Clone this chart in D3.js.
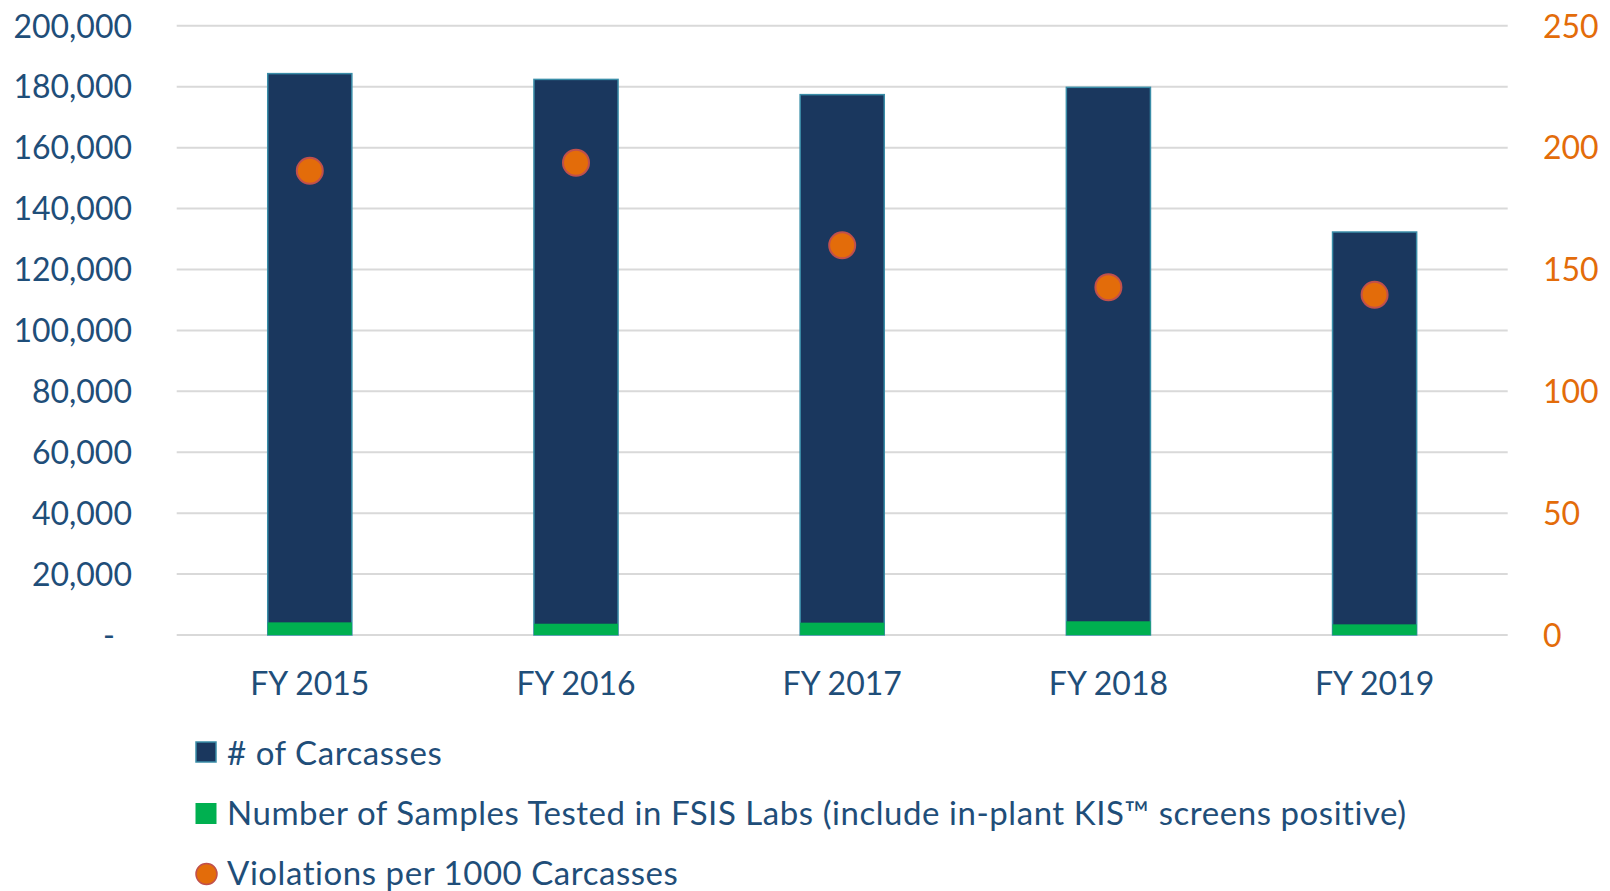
<!DOCTYPE html>
<html>
<head>
<meta charset="utf-8">
<script src="https://cdn.jsdelivr.net/npm/d3@7"></script>
<style>
  html, body { margin: 0; padding: 0; background: #ffffff; }
  svg { display: block; }
  text { font-family: Lato, "Open Sans", sans-serif; }
</style>
</head>
<body>
<svg id="chart" width="1610" height="891"></svg>
<script>
// ---- data ----
const categories = ["FY 2015", "FY 2016", "FY 2017", "FY 2018", "FY 2019"];
const carcasses = [184300, 182400, 177400, 179800, 132300];
const samplesTested = [4150, 3700, 4050, 4500, 3500];
const violationsPer1000 = [190.5, 193.8, 159.9, 142.7, 139.6];
const leftTicks = [0, 20000, 40000, 60000, 80000, 100000, 120000, 140000, 160000, 180000, 200000];
const rightTicks = [0, 50, 100, 150, 200, 250];
const legendLabels = [
  "# of Carcasses",
  "Number of Samples Tested in FSIS Labs (include in-plant KIS\u2122 screens positive)",
  "Violations per 1000 Carcasses"
];

// ---- layout ----
const plotLeft = 176.7, plotRight = 1507.7, plotTop = 25.8, plotBottom = 635;
const navyText = "#1F4E79";
const orange = "#E36C0A";
const barFill = "#1A375E";
const barStroke = "#3A8DA8";
const green = "#00B050";
const dotStroke = "#C0504D";
const gridColor = "#D9D9D9";

const svg = d3.select("#chart");

const p = 0.684;
const x = d3.scaleBand().domain(categories).range([plotLeft, plotRight])
  .paddingInner(p).paddingOuter(p / 2);
const yL = d3.scaleLinear().domain([0, 200000]).range([plotBottom, plotTop]);
const yR = d3.scaleLinear().domain([0, 250]).range([plotBottom, plotTop]);

// gridlines
svg.append("g").selectAll("line").data(leftTicks).join("line")
  .attr("x1", plotLeft).attr("x2", plotRight)
  .attr("y1", d => yL(d)).attr("y2", d => yL(d))
  .attr("stroke", gridColor).attr("stroke-width", 2);

// left axis
const leftAxis = d3.axisLeft(yL).tickValues(leftTicks).tickSize(0).tickPadding(0)
  .tickFormat(d => d === 0 ? "-" : d3.format(",")(d));
const gL = svg.append("g").attr("transform", `translate(132,0)`).call(leftAxis);
gL.select(".domain").remove();
gL.selectAll("text").attr("fill", navyText).attr("font-size", 32)
  .attr("font-family", "Lato, sans-serif").attr("text-anchor", "end").attr("dy", "0.35em")
  .attr("dx", d => d === 0 ? -17 : 0);

// right axis
const rightAxis = d3.axisRight(yR).tickValues(rightTicks).tickSize(0).tickPadding(0);
const gR = svg.append("g").attr("transform", `translate(1543,0)`).call(rightAxis);
gR.select(".domain").remove();
gR.selectAll("text").attr("fill", orange).attr("font-size", 32)
  .attr("font-family", "Lato, sans-serif").attr("text-anchor", "start").attr("dy", "0.35em");

// bottom axis labels
const bottomAxis = d3.axisBottom(x).tickSize(0).tickPadding(0);
const gB = svg.append("g").attr("transform", `translate(0,${plotBottom})`).call(bottomAxis);
gB.select(".domain").remove();
gB.selectAll("text").attr("fill", navyText).attr("font-size", 32)
  .attr("font-family", "Lato, sans-serif").attr("dy", null).attr("y", 60);

// carcass bars
svg.append("g").selectAll("rect").data(categories).join("rect")
  .attr("x", d => x(d)).attr("width", x.bandwidth())
  .attr("y", (d, i) => yL(carcasses[i]))
  .attr("height", (d, i) => yL(0) - yL(carcasses[i]))
  .attr("fill", barFill).attr("stroke", barStroke).attr("stroke-width", 1.5);

// samples bars
svg.append("g").selectAll("rect").data(categories).join("rect")
  .attr("x", d => x(d)).attr("width", x.bandwidth())
  .attr("y", (d, i) => yL(samplesTested[i]))
  .attr("height", (d, i) => yL(0) - yL(samplesTested[i]))
  .attr("fill", green);

// violation dots
svg.append("g").selectAll("circle").data(categories).join("circle")
  .attr("cx", d => x(d) + x.bandwidth() / 2)
  .attr("cy", (d, i) => yR(violationsPer1000[i]))
  .attr("r", 13)
  .attr("fill", orange).attr("stroke", dotStroke).attr("stroke-width", 2);

// legend
const legend = svg.append("g");
const rowBase = [765, 825, 885];
legendLabels.forEach((lab, i) => {
  if (i === 0) {
    legend.append("rect").attr("x", 196).attr("y", 742).attr("width", 20).attr("height", 20)
      .attr("fill", barFill).attr("stroke", barStroke).attr("stroke-width", 1.5);
  } else if (i === 1) {
    legend.append("rect").attr("x", 195.5).attr("y", 803).attr("width", 21).attr("height", 21)
      .attr("fill", green);
  } else {
    legend.append("circle").attr("cx", 206.5).attr("cy", 874).attr("r", 10.5)
      .attr("fill", orange).attr("stroke", dotStroke).attr("stroke-width", 1.5);
  }
  legend.append("text").attr("x", 227).attr("y", rowBase[i])
    .attr("fill", navyText).attr("font-size", 33).attr("letter-spacing", 0.55).text(lab);
});
</script>
</body>
</html>
